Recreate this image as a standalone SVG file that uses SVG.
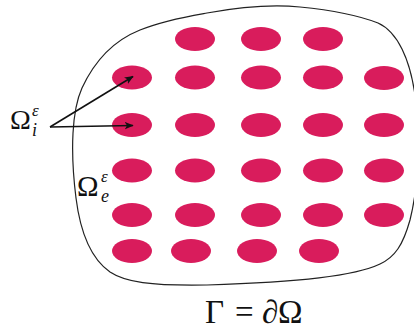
<svg xmlns="http://www.w3.org/2000/svg" width="414" height="331" viewBox="0 0 414 331">
<style>
.dot{fill:#D91C5C;}
.lbl{font-family:"Liberation Serif","DejaVu Serif",serif;fill:#111;}
.it{font-style:italic;}
</style>
<defs>
<marker id="ah" viewBox="0 0 12 10" refX="11" refY="5" markerWidth="9" markerHeight="8" markerUnits="userSpaceOnUse" orient="auto">
<path d="M0,0 L12,5 L0,10 L3,5 Z" fill="#111"/>
</marker>
</defs>
<rect width="414" height="331" fill="#fff"/>
<g id="boundary">
<path d="M207,13 C240,7 270,4 300,7 C330,10 360,16 378,23 C398,32 410,60 415,95 C420,130 420,180 410,220 C403,245 395,257 380,264 C355,276 300,282 207,285 C150,286 125,282 110,272 C90,258 80,230 76,198 C70,150 72,110 82,88 C95,60 115,40 140,30 C165,20 190,16 207,13 Z" fill="none" stroke="#222" stroke-width="1.2"/>
</g>
<g id="inclusions">
<ellipse class="dot" cx="195" cy="39" rx="20" ry="12"/>
<ellipse class="dot" cx="261" cy="39" rx="20" ry="12"/>
<ellipse class="dot" cx="323" cy="39" rx="20" ry="12"/>
<ellipse class="dot" cx="132" cy="77.5" rx="20" ry="12"/>
<ellipse class="dot" cx="195" cy="77.5" rx="20" ry="12"/>
<ellipse class="dot" cx="261" cy="77.5" rx="20" ry="12"/>
<ellipse class="dot" cx="323" cy="77.5" rx="20" ry="12"/>
<ellipse class="dot" cx="384" cy="78" rx="20" ry="12"/>
<ellipse class="dot" cx="132" cy="125" rx="20" ry="12"/>
<ellipse class="dot" cx="195" cy="125" rx="20" ry="12"/>
<ellipse class="dot" cx="261" cy="125" rx="20" ry="12"/>
<ellipse class="dot" cx="323" cy="125" rx="20" ry="12"/>
<ellipse class="dot" cx="384" cy="125" rx="20" ry="12"/>
<ellipse class="dot" cx="132" cy="170.5" rx="20" ry="12"/>
<ellipse class="dot" cx="195" cy="170.5" rx="20" ry="12"/>
<ellipse class="dot" cx="261" cy="170.5" rx="20" ry="12"/>
<ellipse class="dot" cx="323" cy="170.5" rx="20" ry="12"/>
<ellipse class="dot" cx="384" cy="170.5" rx="20" ry="12"/>
<ellipse class="dot" cx="132" cy="215" rx="20" ry="12"/>
<ellipse class="dot" cx="195" cy="215" rx="20" ry="12"/>
<ellipse class="dot" cx="261" cy="215" rx="20" ry="12"/>
<ellipse class="dot" cx="323" cy="215" rx="20" ry="12"/>
<ellipse class="dot" cx="384" cy="215" rx="20" ry="12"/>
<ellipse class="dot" cx="132" cy="251" rx="20" ry="12"/>
<ellipse class="dot" cx="191" cy="251" rx="20" ry="12"/>
<ellipse class="dot" cx="257" cy="251" rx="20" ry="12"/>
<ellipse class="dot" cx="319" cy="251" rx="20" ry="12"/>
</g>
<g id="connectors" stroke="#111" stroke-width="1.6" fill="none">
<line x1="50" y1="127" x2="133" y2="76.5" marker-end="url(#ah)"/>
<line x1="50" y1="127" x2="133" y2="125.5" marker-end="url(#ah)"/>
</g>
<g id="label-omega-i">
<text class="lbl" x="10" y="129" font-size="28">Ω</text>
<text class="lbl it" x="32" y="116" font-size="17">ε</text>
<text class="lbl it" x="32" y="136" font-size="18">i</text>
</g>
<g id="label-omega-e">
<text class="lbl" x="77" y="196" font-size="29">Ω</text>
<text class="lbl it" x="101" y="182" font-size="17">ε</text>
<text class="lbl it" x="101" y="202" font-size="18">e</text>
</g>
<g id="label-gamma">
<text class="lbl" x="205" y="323" font-size="33">Γ</text>
<text class="lbl" x="235" y="323" font-size="33">=</text>
<text class="lbl it" x="262" y="323" font-size="33">∂</text>
<text class="lbl" x="278" y="323" font-size="33">Ω</text>
</g>
</svg>
